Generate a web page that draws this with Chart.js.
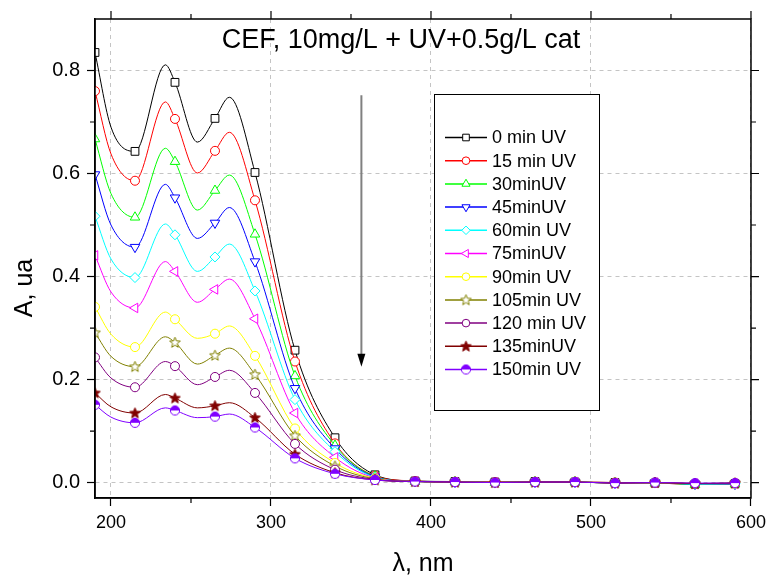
<!DOCTYPE html>
<html>
<head>
<meta charset="utf-8">
<script src="https://cdn.jsdelivr.net/npm/chart.js@4.4.1/dist/chart.umd.min.js"></script>
<style>
  html, body { margin: 0; padding: 0; background: #fff; }
  #wrap { width: 772px; height: 578px; }
</style>
</head>
<body>
<div id="wrap"><canvas id="uvChart"></canvas></div>
<script>
const wavelengths = [190, 200, 215, 234, 240, 254, 265, 274, 290, 315, 340, 365, 390, 415, 440, 465, 490, 515, 540, 565, 590];
// symbols are only shown every 25 nm
const markerWavelengths = [190, 215, 240, 265, 290, 315, 340, 365, 390, 415, 440, 465, 490, 515, 540, 565, 590];

const abs0   = [0.835, 0.690, 0.643, 0.811, 0.777, 0.661, 0.707, 0.748, 0.602, 0.257, 0.087, 0.015, 0.003, 0.002, 0.001, 0.002, 0.001, 0.000, -0.001, -0.003, -0.002];
const abs15  = [0.760, 0.638, 0.586, 0.739, 0.706, 0.601, 0.644, 0.680, 0.548, 0.235, 0.076, 0.013, 0.003, 0.001, 0.001, 0.001, 0.001, 0.000, -0.001, -0.003, -0.002];
const abs30  = [0.667, 0.561, 0.515, 0.649, 0.623, 0.529, 0.567, 0.597, 0.482, 0.207, 0.072, 0.012, 0.002, 0.001, 0.000, 0.001, 0.001, -0.001, 0.000, -0.004, -0.003];
const abs45  = [0.598, 0.500, 0.457, 0.579, 0.553, 0.474, 0.504, 0.534, 0.429, 0.183, 0.066, 0.011, 0.002, 0.001, 0.000, 0.001, 0.001, -0.001, 0.000, -0.003, -0.003];
const abs60  = [0.517, 0.434, 0.398, 0.502, 0.481, 0.410, 0.438, 0.463, 0.372, 0.161, 0.060, 0.010, 0.002, 0.001, 0.000, 0.001, 0.001, -0.001, 0.000, -0.003, -0.002];
const abs75  = [0.441, 0.370, 0.339, 0.429, 0.410, 0.350, 0.375, 0.395, 0.318, 0.135, 0.049, 0.009, 0.002, 0.001, 0.000, 0.001, 0.001, -0.001, 0.000, -0.002, -0.002];
const abs90  = [0.341, 0.288, 0.263, 0.331, 0.317, 0.280, 0.289, 0.304, 0.246, 0.105, 0.038, 0.008, 0.002, 0.001, 0.000, 0.001, 0.001, -0.001, 0.000, -0.002, -0.002];
const abs105 = [0.291, 0.245, 0.225, 0.283, 0.272, 0.230, 0.247, 0.261, 0.210, 0.091, 0.032, 0.007, 0.002, 0.001, 0.000, 0.001, 0.001, -0.001, 0.000, -0.002, -0.001];
const abs120 = [0.243, 0.203, 0.185, 0.235, 0.226, 0.190, 0.205, 0.218, 0.174, 0.075, 0.025, 0.006, 0.002, 0.001, 0.000, 0.001, 0.001, -0.001, 0.000, -0.002, -0.001];
const abs135 = [0.174, 0.147, 0.135, 0.171, 0.164, 0.145, 0.149, 0.155, 0.126, 0.055, 0.019, 0.005, 0.002, 0.001, 0.000, 0.001, 0.001, -0.001, 0.000, -0.002, -0.001];
const abs150 = [0.151, 0.127, 0.116, 0.145, 0.140, 0.126, 0.128, 0.133, 0.107, 0.047, 0.017, 0.005, 0.002, 0.001, 0.000, 0.001, 0.001, -0.001, 0.000, -0.001, -0.001];

const seriesValues = [abs0, abs15, abs30, abs45, abs60, abs75, abs90, abs105, abs120, abs135, abs150];
const seriesLabels = ['0 min UV', '15 min UV', '30minUV', '45minUV', '60min UV', '75minUV',
                      '90min UV', '105min UV', '120 min UV', '135minUV', '150min UV'];
const seriesColors = ['#000000', '#ff0000', '#00ff00', '#0000ff', '#00ffff', '#ff00ff',
                      '#ffff00', '#808000', '#800080', '#800000', '#8000ff'];

const xTickLabels = [200, 300, 400, 500, 600];
const yTickLabels = [0.0, 0.2, 0.4, 0.6, 0.8];

const FONT = "'Liberation Sans', Arial, sans-serif";

// little canvases for the symbols Chart.js has no built-in for
function starMarker(color, filled) {
  const c = document.createElement('canvas');
  c.width = 13; c.height = 13;
  const g = c.getContext('2d');
  g.beginPath();
  for (let i = 0; i < 10; i++) {
    const r = i % 2 === 0 ? 5.6 : 2.4;
    const a = -Math.PI / 2 + i * Math.PI / 5;
    const px = 6.5 + r * Math.cos(a), py = 6.8 + r * Math.sin(a);
    if (i === 0) g.moveTo(px, py); else g.lineTo(px, py);
  }
  g.closePath();
  g.fillStyle = filled ? color : '#ffffff';
  g.fill();
  g.strokeStyle = color;
  g.lineWidth = 1;
  g.stroke();
  return c;
}

function halfCircleMarker(color) {
  const c = document.createElement('canvas');
  c.width = 12; c.height = 12;
  const g = c.getContext('2d');
  g.beginPath();
  g.arc(6, 6, 4.6, 0, Math.PI * 2);
  g.fillStyle = '#ffffff';
  g.fill();
  g.beginPath();
  g.arc(6, 6, 4.6, Math.PI, 0);
  g.closePath();
  g.fillStyle = color;
  g.fill();
  g.beginPath();
  g.arc(6, 6, 4.6, 0, Math.PI * 2);
  g.strokeStyle = color;
  g.lineWidth = 1;
  g.stroke();
  return c;
}

const markers = [
  { style: 'rect', rotation: 0, radius: 5.5 },
  { style: 'circle', rotation: 0, radius: 4.5 },
  { style: 'triangle', rotation: 0, radius: 5.5 },
  { style: 'triangle', rotation: 180, radius: 5.5 },
  { style: 'rectRot', rotation: 0, radius: 5 },
  { style: 'triangle', rotation: -90, radius: 5.5 },
  { style: 'circle', rotation: 0, radius: 4.5 },
  { style: starMarker('#808000', false), rotation: 0, radius: 5 },
  { style: 'circle', rotation: 0, radius: 4.5 },
  { style: starMarker('#800000', true), rotation: 0, radius: 5 },
  { style: halfCircleMarker('#8000ff'), rotation: 0, radius: 5 }
];

const datasets = seriesValues.map((vals, i) => ({
  label: seriesLabels[i],
  data: wavelengths.map((w, k) => ({ x: w, y: vals[k] })),
  borderColor: seriesColors[i],
  borderWidth: 1,
  backgroundColor: '#ffffff',
  pointStyle: markers[i].style,
  pointRotation: markers[i].rotation,
  pointBorderColor: seriesColors[i],
  pointBackgroundColor: '#ffffff',
  pointBorderWidth: 1,
  pointRadius: ctx => markerWavelengths.includes(wavelengths[ctx.dataIndex]) ? markers[i].radius : 0,
  pointHoverRadius: 0,
  cubicInterpolationMode: 'monotone',
  fill: false,
  order: seriesValues.length - 1 - i
}));

const isMajorX = v => xTickLabels.includes(v);
const isMajorY = v => yTickLabels.some(t => Math.abs(t - v) < 1e-6);

const decor = {
  id: 'decor',
  afterDraw(chart) {
    const { ctx, chartArea: ca, scales: { x, y } } = chart;
    ctx.save();

    // frame
    ctx.strokeStyle = '#000';
    ctx.lineWidth = 1.5;
    ctx.strokeRect(ca.left, ca.top, ca.right - ca.left, ca.bottom - ca.top);

    // minor ticks all round, major ticks on top and right
    ctx.lineWidth = 1.2;
    ctx.beginPath();
    [250, 350, 450, 550].forEach(v => {
      const px = x.getPixelForValue(v);
      ctx.moveTo(px, ca.bottom); ctx.lineTo(px, ca.bottom + 5);
      ctx.moveTo(px, ca.top); ctx.lineTo(px, ca.top - 5);
    });
    xTickLabels.forEach(v => {
      const px = x.getPixelForValue(v);
      ctx.moveTo(px, ca.top); ctx.lineTo(px, ca.top - 8);
    });
    [0.1, 0.3, 0.5, 0.7].forEach(v => {
      const py = y.getPixelForValue(v);
      ctx.moveTo(ca.left, py); ctx.lineTo(ca.left - 5, py);
      ctx.moveTo(ca.right, py); ctx.lineTo(ca.right + 5, py);
    });
    yTickLabels.forEach(v => {
      const py = y.getPixelForValue(v);
      ctx.moveTo(ca.right, py); ctx.lineTo(ca.right + 8, py);
    });
    ctx.stroke();

    // y axis title, sitting a little below the middle as in the original
    ctx.save();
    ctx.translate(25, 288);
    ctx.rotate(-Math.PI / 2);
    ctx.fillStyle = '#000';
    ctx.font = '25px ' + FONT;
    ctx.textAlign = 'center';
    ctx.textBaseline = 'middle';
    ctx.fillText('A, ua', 0, 0);
    ctx.restore();

    // title inside the plot, sized to the reference width
    const title = 'CEF, 10mg/L + UV+0.5g/L cat';
    ctx.font = '20px ' + FONT;
    const size = 20 * 359 / ctx.measureText(title).width;
    ctx.font = size.toFixed(1) + 'px ' + FONT;
    ctx.fillStyle = '#000';
    ctx.textAlign = 'center';
    ctx.textBaseline = 'middle';
    ctx.fillText(title, 401, 41);

    // arrow showing the decrease with time
    const ax = x.getPixelForValue(356.5);
    const ay1 = y.getPixelForValue(0.752);
    const ay2 = y.getPixelForValue(0.225);
    ctx.strokeStyle = '#808080';
    ctx.lineWidth = 2;
    ctx.beginPath();
    ctx.moveTo(ax, ay1); ctx.lineTo(ax, ay2 - 10);
    ctx.stroke();
    ctx.fillStyle = '#000';
    ctx.beginPath();
    ctx.moveTo(ax - 4, ay2 - 13);
    ctx.lineTo(ax + 4, ay2 - 13);
    ctx.lineTo(ax, ay2);
    ctx.closePath();
    ctx.fill();

    // legend box
    const lx = 434, ly = 94, lw = 165, lh = 316;
    ctx.fillStyle = '#fff';
    ctx.fillRect(lx, ly, lw, lh);
    ctx.strokeStyle = '#000';
    ctx.lineWidth = 1;
    ctx.strokeRect(lx + 0.5, ly + 0.5, lw, lh);
    ctx.font = '18px ' + FONT;
    ctx.textAlign = 'left';
    ctx.textBaseline = 'middle';
    seriesLabels.forEach((label, i) => {
      const rowY = 137.5 + i * 23.2;
      ctx.strokeStyle = seriesColors[i];
      ctx.lineWidth = 1.5;
      ctx.beginPath();
      ctx.moveTo(445, rowY); ctx.lineTo(487, rowY);
      ctx.stroke();
      ctx.fillStyle = '#ffffff';
      ctx.lineWidth = 1;
      Chart.helpers.drawPoint(ctx, {
        pointStyle: markers[i].style,
        rotation: markers[i].rotation,
        radius: markers[i].radius * 0.85,
        borderWidth: 1
      }, 466, rowY);
      ctx.fillStyle = '#000';
      ctx.fillText(label, 492, rowY + 1);
    });

    ctx.restore();
  }
};

new Chart(document.getElementById('uvChart'), {
  type: 'line',
  data: { datasets },
  options: {
    responsive: true,
    maintainAspectRatio: false,
    animation: false,
    layout: { padding: { left: 0, right: 19, top: 13, bottom: 0 } },
    plugins: {
      legend: { display: false },
      tooltip: { enabled: false }
    },
    scales: {
      x: {
        type: 'linear',
        min: 190,
        max: 600,
        afterFit: s => { s.height = 80; },
        ticks: {
          stepSize: 50,
          includeBounds: false,
          autoSkip: false,
          maxRotation: 0,
          padding: 6,
          color: '#000',
          font: { family: FONT, size: 18 },
          callback: v => isMajorX(v) ? String(v) : ''
        },
        grid: {
          color: c => (c.tick && isMajorX(c.tick.value)) ? '#c4c4c4' : 'rgba(0,0,0,0)',
          tickColor: c => (c.tick && isMajorX(c.tick.value)) ? '#000' : 'rgba(0,0,0,0)',
          tickLength: 8,
          tickWidth: 1.2,
          lineWidth: 1
        },
        border: { display: true, color: '#000', width: 1.5, dash: [4, 4] },
        title: {
          display: true,
          text: 'λ, nm',
          color: '#000',
          font: { family: FONT, size: 25, lineHeight: 1 },
          padding: { top: 0, bottom: 1 }
        }
      },
      y: {
        type: 'linear',
        min: -0.03,
        max: 0.9,
        afterFit: s => { s.width = 95; },
        ticks: {
          stepSize: 0.1,
          includeBounds: false,
          autoSkip: false,
          padding: 7,
          color: '#000',
          font: { family: FONT, size: 20 },
          callback: v => isMajorY(v) ? v.toFixed(1) : ''
        },
        grid: {
          color: c => (c.tick && isMajorY(c.tick.value)) ? '#c4c4c4' : 'rgba(0,0,0,0)',
          tickColor: c => (c.tick && isMajorY(c.tick.value)) ? '#000' : 'rgba(0,0,0,0)',
          tickLength: 8,
          tickWidth: 1.2,
          lineWidth: 1
        },
        border: { display: true, color: '#000', width: 1.5, dash: [4, 4] },
        title: { display: false }
      }
    }
  },
  plugins: [decor]
});
</script>
</body>
</html>
